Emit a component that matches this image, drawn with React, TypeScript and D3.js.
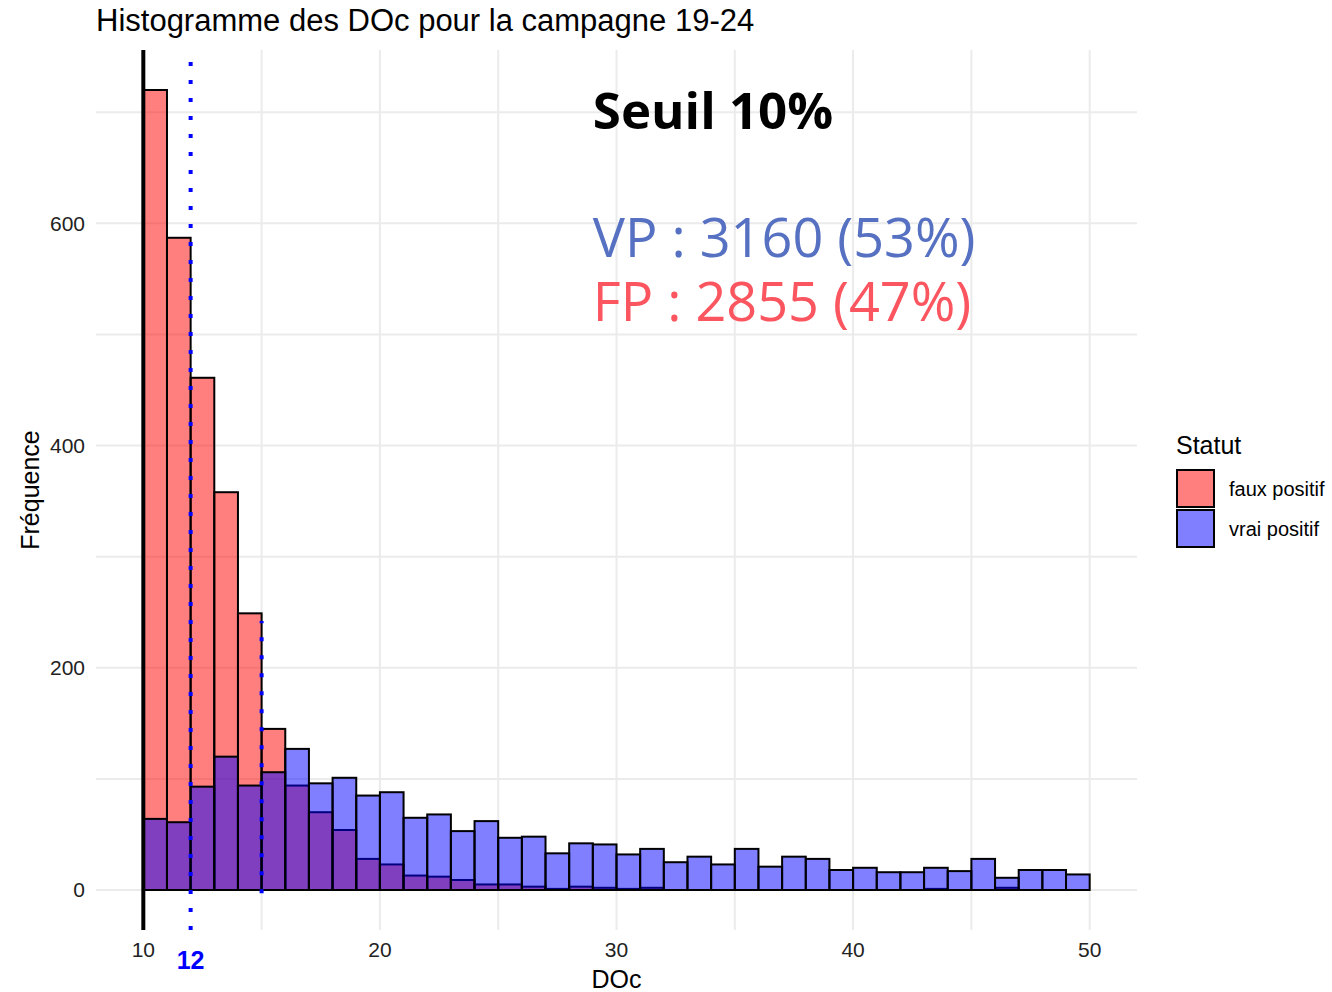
import React from 'react';
import * as d3 from 'd3';

// histogram counts, one bin per unit of DOc starting at 10
const binStart = 10;
const binWidth = 1;
const fauxPositif = [720, 587, 461, 358, 249, 145, 94, 70, 54, 28, 23, 13, 12, 9, 5, 5, 3, 1, 3, 2, 1, 2, 0, 0, 0, 0, 0, 0, 0, 0, 0, 0, 0, 1, 0, 0, 2, 0, 0, 0];
const vraiPositif = [64, 61, 93, 120, 94, 106, 127, 96, 101, 85, 88, 65, 68, 53, 62, 47, 48, 33, 42, 41, 32, 37, 25, 30, 23, 37, 21, 30, 28, 18, 20, 16, 16, 20, 17, 28, 11, 18, 18, 14];

const xTicks = [10, 20, 30, 40, 50];
const xMinor = [15, 25, 35, 45];
const yTicks = [0, 200, 400, 600];
const yMinor = [100, 300, 500, 700];

const seuil = 10;
const seuilLabel = 12;
const seuilEnd = 15;

const legendItems = ['faux positif', 'vrai positif'];
const seriesColors = ['#ff0000', '#0000ff'];

const W = 1332;
const H = 992;
const FONT = '"Liberation Sans", Arial, sans-serif';

export default function App() {
  const x = d3.scaleLinear().domain([8, 52]).range([96, 1137]);
  const y = d3.scaleLinear().domain([-36, 756]).range([930, 50]);
  const [x0, x1] = x.range();
  const [yb, yt] = y.range();

  const bars = (counts: number[], color: string, key: string) =>
    counts.map((c, i) => {
      const a = binStart + i * binWidth;
      return (
        <rect
          key={key + i}
          x={x(a)}
          y={y(c)}
          width={x(a + binWidth) - x(a)}
          height={y(0) - y(c)}
          fill={color}
          fillOpacity={0.5}
          stroke="#000"
          strokeWidth={2}
        />
      );
    });

  return (
    <svg width={W} height={H} style={{ position: 'absolute', left: 0, top: 0, background: '#fff' }} fontFamily={FONT}>
      {/* grid */}
      {yMinor.concat(yTicks).map((v) => (
        <line key={'gy' + v} x1={x0} x2={x1} y1={y(v)} y2={y(v)} stroke="#ebebeb" strokeWidth={2} />
      ))}
      {xMinor.concat(xTicks).map((v) => (
        <line key={'gx' + v} x1={x(v)} x2={x(v)} y1={yb} y2={yt} stroke="#ebebeb" strokeWidth={2} />
      ))}

      {bars(fauxPositif, seriesColors[0], 'fp')}
      {bars(vraiPositif, seriesColors[1], 'vp')}

      {/* threshold lines */}
      <line x1={x(seuil)} x2={x(seuil)} y1={yb} y2={yt} stroke="#000" strokeWidth={4} />
      <line x1={x(seuilLabel)} x2={x(seuilLabel)} y1={yb} y2={yt} stroke="#0000ff" strokeWidth={4} strokeDasharray="4,14" />
      <line x1={x(seuilEnd)} x2={x(seuilEnd)} y1={y(-3)} y2={y(242)} stroke="#0000ff" strokeWidth={4} strokeDasharray="4,14" />

      {/* axes text */}
      {yTicks.map((v) => (
        <text key={'ty' + v} x={85} y={y(v)} dy="0.35em" textAnchor="end" fontSize={21} fill="#222">
          {v}
        </text>
      ))}
      {xTicks.map((v) => (
        <text key={'tx' + v} x={x(v)} y={957} textAnchor="middle" fontSize={21} fill="#222">
          {v}
        </text>
      ))}
      <text x={x(seuilLabel)} y={969} textAnchor="middle" fontSize={25} fontWeight="bold" fill="#0000ff">
        {seuilLabel}
      </text>
      <text x={x(30)} y={988} textAnchor="middle" fontSize={25} fill="#000">
        DOc
      </text>
      <text transform={`translate(39,${(yb + yt) / 2}) rotate(-90)`} textAnchor="middle" fontSize={25} fill="#000">
        Fréquence
      </text>
      <text x={96} y={31} fontSize={31} fill="#000">
        Histogramme des DOc pour la campagne 19-24
      </text>

      {/* annotations */}
      <g fontFamily='"Open Sans", "Noto Sans", sans-serif'>
        <text x={x(29)} y={y(685)} fontSize={51} fontWeight="bold" fill="#000">
          Seuil 10%
        </text>
        <text x={x(29)} y={y(570)} fontSize={54} fill="#5670c2">
          VP : 3160 (53%)
        </text>
        <text x={x(29)} y={y(512)} fontSize={54} fill="#fb5560">
          FP : 2855 (47%)
        </text>
      </g>

      {/* legend */}
      <g transform="translate(1176,0)">
        <text x={0} y={454} fontSize={25} fill="#000">
          Statut
        </text>
        {legendItems.map((d, i) => (
          <g key={d} transform={`translate(0,${470 + i * 40})`}>
            <rect x={1} y={0} width={37} height={37} fill={seriesColors[i]} fillOpacity={0.5} stroke="#000" strokeWidth={2} />
            <text x={53} y={19} dy="0.35em" fontSize={20} fill="#000">
              {d}
            </text>
          </g>
        ))}
      </g>
    </svg>
  );
}
